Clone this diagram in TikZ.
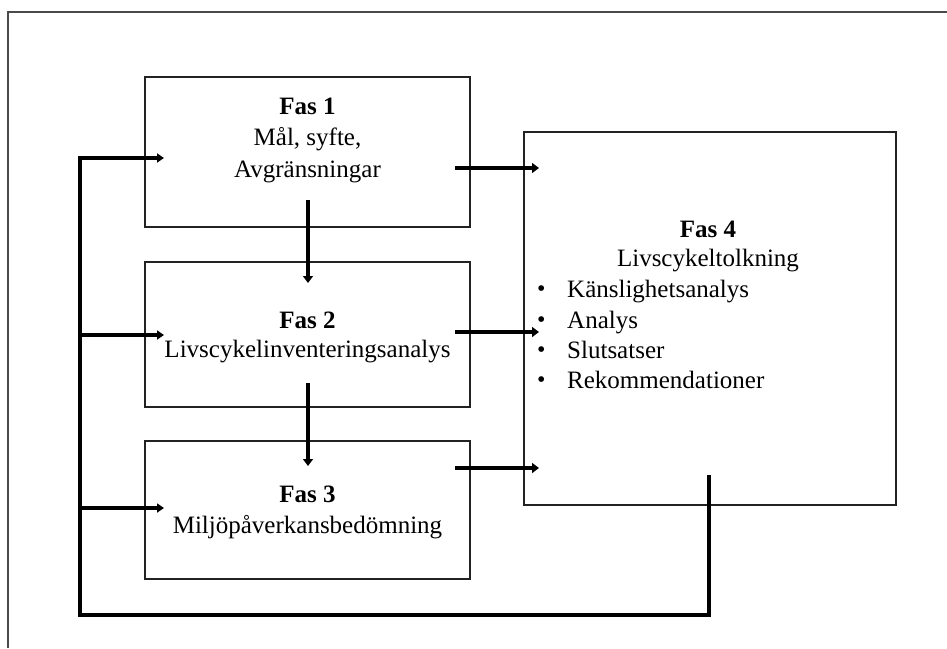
\documentclass[tikz,border=0pt]{standalone}
\usepackage{fontspec}
\setmainfont{Liberation Serif}
\usetikzlibrary{arrows.meta}
\definecolor{frame}{HTML}{4A4A4A}
\definecolor{edge}{HTML}{222222}
\begin{document}
\begin{tikzpicture}[x=1pt,y=-1pt,
  box/.style={draw=edge,line width=1.5pt,rectangle,inner sep=0pt},
  lbl/.style={anchor=base,inner sep=0pt,font=\fontsize{25}{30}\selectfont},
  hd/.style={lbl,font=\fontsize{25}{30}\selectfont\bfseries},
  item/.style={anchor=base west,inner sep=0pt,font=\fontsize{25}{30}\selectfont},
  flow/.style={line width=4.5pt,-{Triangle[length=7pt,width=10pt]}},
  back/.style={line width=3.8pt},
  backarr/.style={line width=3.5pt,-{Triangle[length=7pt,width=9pt]}}]
\useasboundingbox (0,0) rectangle (947,648);
% open page frame
\draw[frame,line width=1.6pt] (947,12) -- (8,12) -- (8,648);

% phase boxes
\node[box,minimum width=325pt,minimum height=150pt] (b1) at (307.5,152) {};
\node[box,minimum width=325pt,minimum height=145pt] (b2) at (307.5,334.5) {};
\node[box,minimum width=325pt,minimum height=138pt] (b3) at (307.5,510) {};
\node[box,minimum width=372pt,minimum height=373pt] (b4) at (710,318.5) {};

% box texts
\node[hd]  (t1a) at (307.5,114) {Fas 1};
\node[lbl] (t1b) at (307.5,145) {Mål, syfte,};
\node[lbl] (t1c) at (307.5,177) {Avgränsningar};
\node[hd]  (t2a) at (307.5,328) {Fas 2};
\node[lbl] (t2b) at (307.5,357) {Livscykelinventeringsanalys};
\node[hd]  (t3a) at (307.5,502) {Fas 3};
\node[lbl] (t3b) at (307.5,533) {Miljöpåverkansbedömning};
\node[hd]  (t4a) at (708,237) {Fas 4};
\node[lbl] (t4b) at (708,266) {Livscykeltolkning};
\foreach \y/\txt [count=\i] in {297/Känslighetsanalys,328/Analys,358/Slutsatser,388/Rekommendationer}{
  \node[item] (k\i) at (567,\y) {\txt};
  \node[item,font=\fontsize{24}{28}\selectfont] (d\i) at (537,\y-1) {•};
}

% connector end points
\coordinate (o1) at (455,168);  \coordinate (i1) at (539,168);
\coordinate (o2) at (455,332);  \coordinate (i2) at (539,332);
\coordinate (o3) at (455,468);  \coordinate (i3) at (539,468);
\coordinate (d12a) at (308,200); \coordinate (d12b) at (308,283);
\coordinate (d23a) at (308,383); \coordinate (d23b) at (308,466);
\coordinate (fb0) at (709,475);
\coordinate (fbc) at (709,615);
\coordinate (fbl) at (80,615);
\coordinate (fbt) at (80,158);
\coordinate (e1) at (164,158);
\coordinate (s2) at (80,335); \coordinate (e2) at (164,335);
\coordinate (s3) at (80,508); \coordinate (e3) at (164,508);

% forward flow into phase 4
\draw[flow] (o1) -- (i1);
\draw[flow] (o2) -- (i2);
\draw[flow] (o3) -- (i3);
% flow between phases 1-3
\draw[flow] (d12a) -- (d12b);
\draw[flow] (d23a) -- (d23b);
% feedback loop from phase 4
\draw[back,line join=miter] (fb0) -- (fbc) -- (fbl) -- (fbt) -- ++(2,0);
\draw[backarr] ([xshift=-1.9pt]fbt) -- (e1);
\draw[backarr] (s2) -- (e2);
\draw[backarr] (s3) -- (e3);
\end{tikzpicture}
\end{document}
